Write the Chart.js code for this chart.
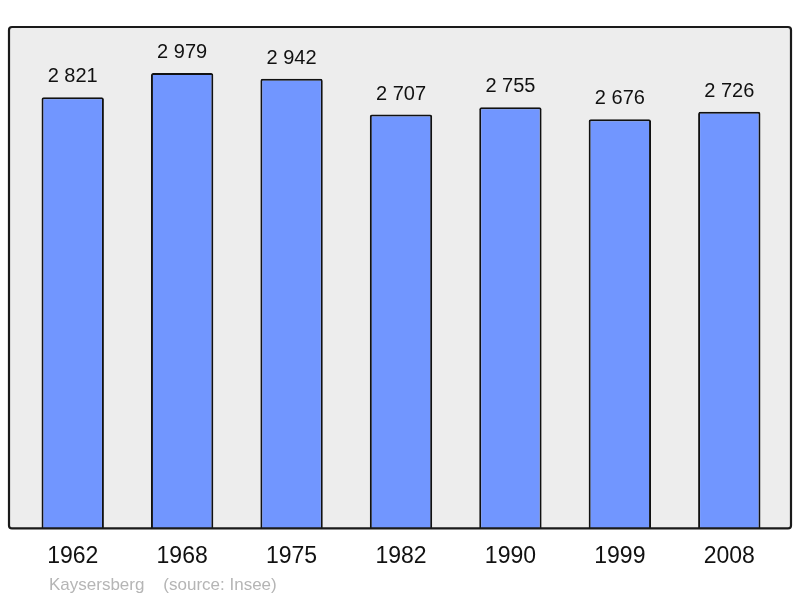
<!DOCTYPE html>
<html>
<head>
<meta charset="utf-8">
<script src="https://cdn.jsdelivr.net/npm/chart.js@4/dist/chart.umd.min.js"></script>
<style>
  html, body { margin: 0; padding: 0; background: #fff; }
  #wrap { width: 800px; height: 598px; }
</style>
</head>
<body>
<div id="wrap"><canvas id="pop"></canvas></div>
<script>
const years = ['1962', '1968', '1975', '1982', '1990', '1999', '2008'];
const population = [2821, 2979, 2942, 2707, 2755, 2676, 2726];
const footer = 'Kaysersberg    (source: Insee)';

const fmt = v => String(v).replace(/\B(?=(\d{3})+(?!\d))/g, ' ');

// grey frame behind the bars
const frame = {
    id: 'frame',
    beforeDatasetsDraw(chart) {
        const a = chart.chartArea;
        const c = chart.ctx;
        c.save();
        c.beginPath();
        c.roundRect(a.left - 9, a.top, a.width + 16, a.height, 3);
        c.fillStyle = '#ededed';
        c.fill();
        c.restore();
    },
    afterDatasetsDraw(chart) {
        const a = chart.chartArea;
        const c = chart.ctx;
        c.save();
        c.beginPath();
        c.roundRect(a.left - 9, a.top, a.width + 16, a.height, 3);
        c.lineWidth = 2.2;
        c.strokeStyle = '#1a1a1a';
        c.stroke();

        // value labels
        c.fillStyle = '#111';
        c.font = '20px "Liberation Sans", Arial, sans-serif';
        c.textAlign = 'center';
        c.textBaseline = 'alphabetic';
        chart.getDatasetMeta(0).data.forEach((bar, i) => {
            c.fillText(fmt(population[i]), bar.x, bar.y - 15);
        });

        // footer
        c.fillStyle = '#b5b5b5';
        c.font = '17px "Liberation Sans", Arial, sans-serif';
        c.textAlign = 'left';
        c.fillText(footer, 49, 590);
        c.restore();
    }
};

new Chart(document.getElementById('pop'), {
    type: 'bar',
    data: {
        labels: years,
        datasets: [{
            data: population,
            backgroundColor: '#7196ff',
            borderColor: '#111',
            borderWidth: 2,
            borderRadius: 2,
            borderSkipped: 'bottom',
            barPercentage: 0.57,
            categoryPercentage: 1
        }]
    },
    options: {
        responsive: true,
        maintainAspectRatio: false,
        animation: false,
        layout: { padding: { left: 18, right: 16, top: 27, bottom: 14 } },
        plugins: {
            legend: { display: false },
            tooltip: { enabled: false }
        },
        scales: {
            x: {
                grid: { display: false, drawTicks: false },
                border: { display: false },
                ticks: {
                    color: '#111',
                    padding: 14,
                    font: { family: '"Liberation Sans", Arial, sans-serif', size: 23 }
                }
            },
            y: {
                display: false,
                min: 0,
                max: 3280
            }
        }
    },
    plugins: [frame]
});
</script>
</body>
</html>
